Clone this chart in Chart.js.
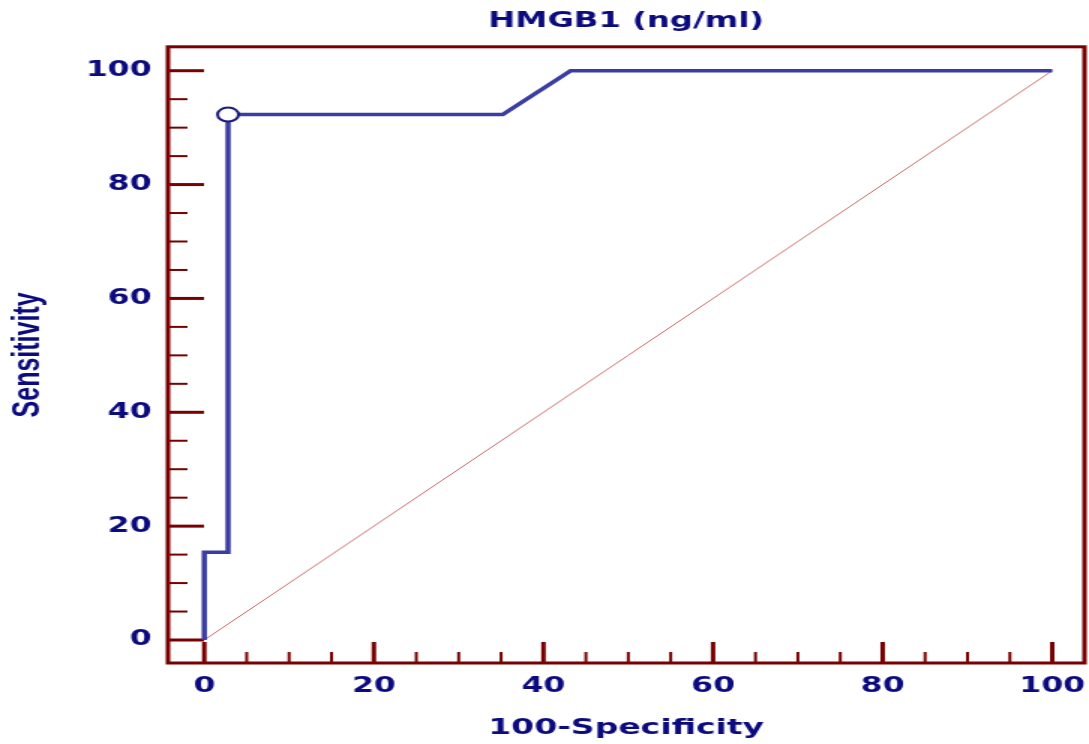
<!DOCTYPE html>
<html>
<head>
<meta charset="utf-8">
<script src="https://cdn.jsdelivr.net/npm/chart.js@4/dist/chart.umd.min.js"></script>
<style>
  html, body { margin: 0; padding: 0; background: #fff; overflow: hidden; }
  /* the reference picture is stretched sideways, so the chart is drawn narrow and widened */
  #wrap { width: 732px; height: 744px; transform: scaleX(1.5); transform-origin: 0 0; }
</style>
</head>
<body>
<div id="wrap"><canvas id="roc"></canvas></div>
<script>
// ROC curve points
var fpr = [0, 0, 2.8, 2.8, 35.2, 43.2, 100];
var tpr = [0, 15.4, 15.4, 92.3, 92.3, 100, 100];
// chosen cut-off (open circle)
var cutX = [2.8];
var cutY = [92.3];
// reference diagonal
var diagX = [0, 100];
var diagY = [0, 100];
// tick labels
var xTicks = [0, 20, 40, 60, 80, 100];
var yTicks = [0, 20, 40, 60, 80, 100];

var navy = "#0b0b7e";
var maroon = "#780000";

function pts(xs, ys) {
  return xs.map(function (v, i) { return { x: v, y: ys[i] }; });
}

// box round the plot and the inward tick marks
var frame = {
  id: "frame",
  beforeDatasetsDraw: function (chart) {
    var ctx = chart.ctx, a = chart.chartArea;
    var x = chart.scales.x, y = chart.scales.y;
    ctx.save();
    ctx.strokeStyle = maroon;
    for (var v = 0; v <= 100; v += 5) {
      var major = v % 20 === 0;
      ctx.lineWidth = major ? 3 : 2;
      var py = y.getPixelForValue(v);
      ctx.beginPath();
      ctx.moveTo(a.left, py);
      ctx.lineTo(a.left + (major ? 24 : 13), py);
      ctx.stroke();
      var px = x.getPixelForValue(v);
      ctx.beginPath();
      ctx.moveTo(px, a.bottom);
      ctx.lineTo(px, a.bottom - (major ? 21 : 11));
      ctx.stroke();
    }
    ctx.lineWidth = 3;
    ctx.strokeRect(a.left, a.top, a.right - a.left, a.bottom - a.top);
    ctx.restore();
  },
};

var ctx = document.getElementById("roc").getContext("2d");
var chart = new Chart(ctx, {
  type: "scatter",
  data: {
    datasets: [
      {
        label: "cut-off",
        data: pts(cutX, cutY),
        pointRadius: 7,
        pointBackgroundColor: "#fff",
        pointBorderColor: "#1a1a80",
        pointBorderWidth: 2,
        showLine: false,
      },
      {
        label: "HMGB1",
        data: pts(fpr, tpr),
        showLine: true,
        borderColor: "#3a3ea2",
        borderWidth: 3.5,
        pointRadius: 0,
        tension: 0,
      },
      {
        label: "diagonal",
        data: pts(diagX, diagY),
        showLine: true,
        borderColor: "#c86a6a",
        borderWidth: 1,
        pointRadius: 0,
      },
    ],
  },
  options: {
    responsive: true,
    maintainAspectRatio: false,
    animation: false,
    layout: { padding: { left: 0, right: 0, top: 0, bottom: 0 } },
    plugins: {
      legend: { display: false },
      tooltip: { enabled: false },
      title: {
        display: true,
        fullSize: false,
        text: "HMGB1 (ng/ml)",
        color: navy,
        font: { family: "DejaVu Sans", size: 21.5, weight: "bold" },
        padding: { top: 9, bottom: 12 },
      },
    },
    scales: {
      x: {
        type: "linear",
        min: -4.28,
        max: 103.8,
        afterBuildTicks: function (scale) {
          scale.ticks = xTicks.map(function (v) { return { value: v }; });
        },
        afterFit: function (scale) {
          scale.height = 81;
          scale.paddingLeft = 0;
          scale.paddingRight = 0;
        },
        grid: { display: false, drawTicks: false },
        border: { display: false },
        ticks: {
          color: navy,
          padding: 11,
          autoSkip: false,
          maxRotation: 0,
          font: { family: "DejaVu Sans", size: 21, weight: "bold" },
        },
        title: {
          display: true,
          text: "100-Specificity",
          color: navy,
          font: { family: "DejaVu Sans", size: 22, weight: "bold" },
          padding: { top: 0, bottom: 3 },
        },
      },
      y: {
        type: "linear",
        min: -4.04,
        max: 104.2,
        afterBuildTicks: function (scale) {
          scale.ticks = yTicks.map(function (v) { return { value: v }; });
        },
        afterFit: function (scale) {
          scale.width = 112;
          scale.paddingTop = 0;
          scale.paddingBottom = 0;
        },
        grid: { display: false, drawTicks: false },
        border: { display: false },
        ticks: {
          color: navy,
          padding: 11,
          autoSkip: false,
          font: { family: "DejaVu Sans", size: 21, weight: "bold" },
        },
        title: {
          display: true,
          text: "Sensitivity",
          color: navy,
          font: { family: "Liberation Sans", size: 25, weight: "bold" },
          padding: { top: 4, bottom: 0 },
        },
      },
    },
  },
  plugins: [frame],
});
</script>
</body>
</html>
